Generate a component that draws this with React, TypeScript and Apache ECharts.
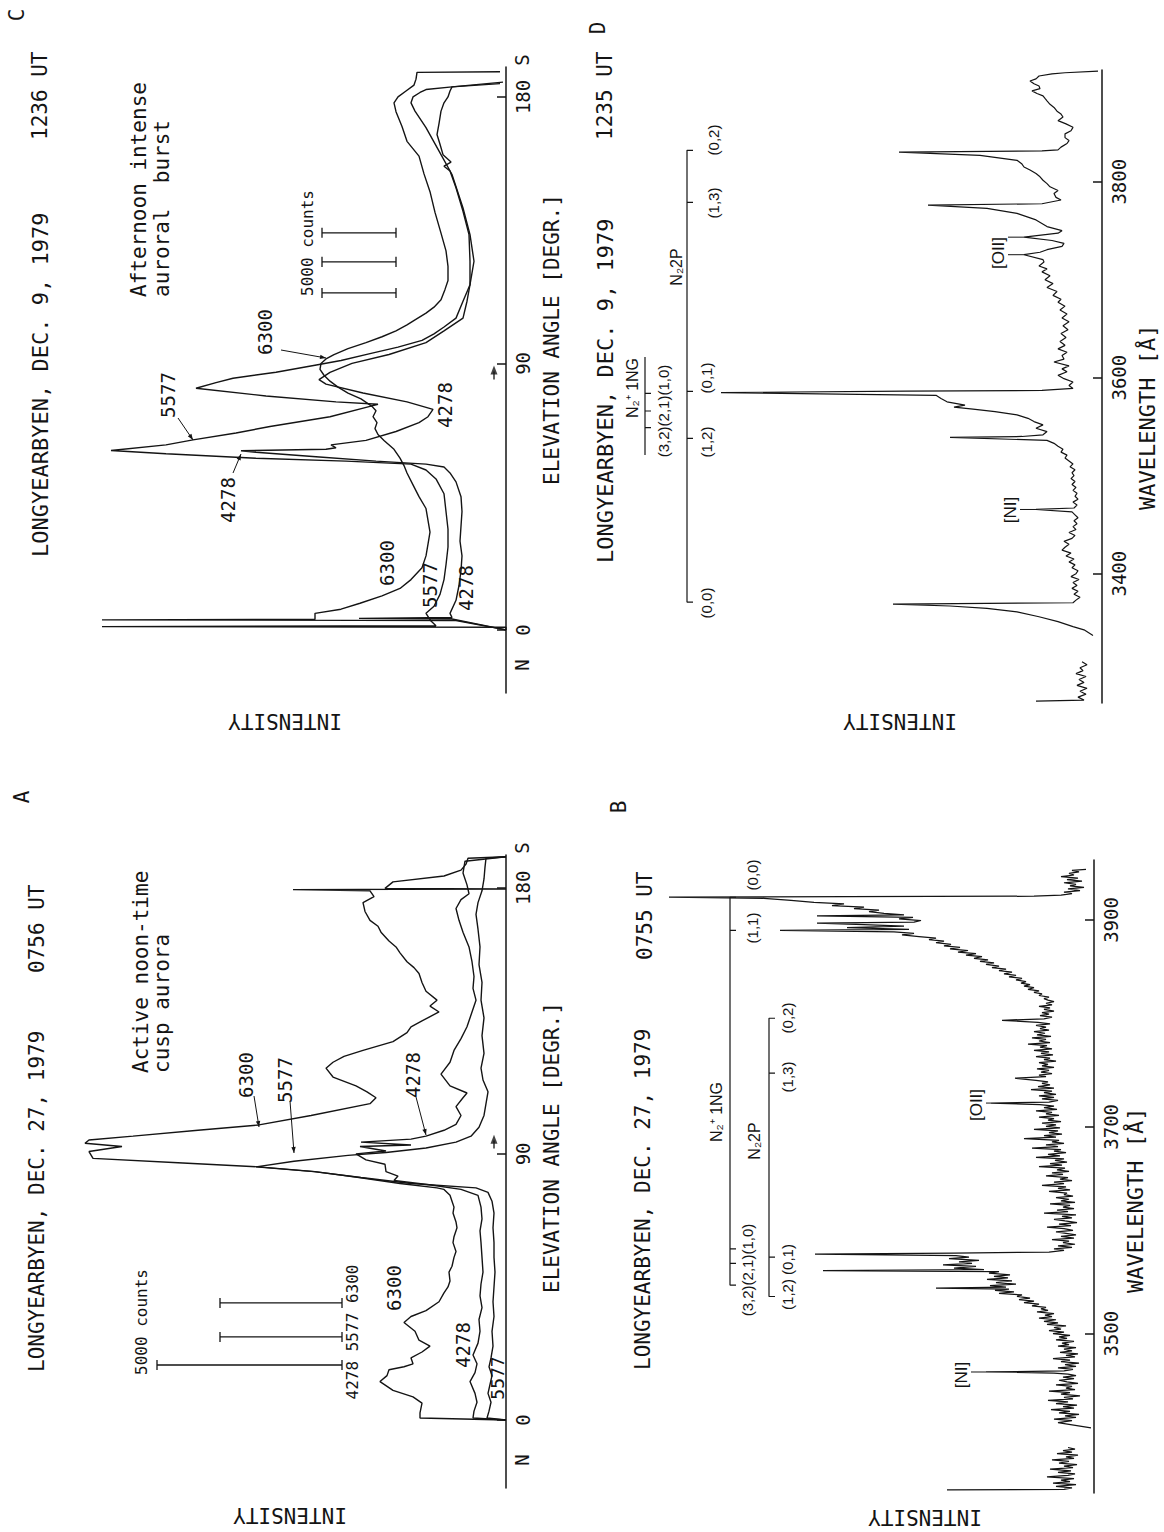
import React, { useEffect, useRef } from "react";
import * as echarts from "echarts";

// ---------- DATA (elevation scans: [elevation deg, intensity]) ----------
const A_6300 = [[0,0],[0.7,86],[2.4,86],[5.7,84],[7.8,93],[10,113],[13,126],[15,119],[17,117],[18,102],[19,93],[21,95],[23,84],[25,76],[27,87],[30,91],[33,102],[35,95],[37,80],[40,67],[43,62],[45,58],[47,56],[50,57],[52,54],[55,52],[57,50],[60,53],[62,52],[65,49],[67,50],[70,53],[72,52],[74,54],[76,56],[78,62],[78.5,69],[80,106],[82,147],[84,191],[85.6,247],[87,328],[88.5,413],[90.8,417],[92.5,384],[93.6,421],[94.7,417],[96,373],[98,308],[99.8,247],[103,195],[107,136],[109,130],[111,139],[113,150],[116,173],[119,180],[121,173],[123,162],[125,143],[128,113],[131,99],[133,95],[135,84],[138,67],[140,76],[142,69],[145,80],[148,84],[151,87],[153,92],[155,99],[158,106],[160,110],[162,117],[165,125],[167,128],[169,136],[172,141],[175,143],[177,132],[179,136],[179.4,213],[179.6,0],[179.8,121],[182,113],[184,62],[186,45],[188,40],[190,38],[190.5,0]];
const A_5577 = [[0,0],[0.7,19],[3,17],[6,15],[9,18],[12,16],[15,14],[18,17],[21,15],[25,13],[30,14],[35,12],[40,13],[45,12],[50,11],[55,12],[60,12],[65,13],[70,12],[74,14],[77,18],[78.5,30],[80,95],[82,145],[84,192],[85.6,250],[87.5,212],[89.5,158],[90.5,120],[92,80],[94,50],[96,35],[99,27],[103,22],[107,20],[111,18],[115,23],[119,25],[124,22],[130,24],[136,22],[142,25],[148,24],[154,27],[160,26],[166,28],[171,30],[175,28],[179,24],[183,22],[187,21],[190,20],[190.5,0]];
const A_4278 = [[0,0],[0.7,33],[3,32],[6,29],[9,31],[13,36],[16,31],[19,29],[22,33],[26,28],[30,26],[34,27],[38,24],[42,26],[46,25],[50,23],[55,24],[60,25],[64,26],[68,24],[72,25],[76,28],[78,45],[79.5,75],[81,112],[82.5,108],[84,120],[86.5,121],[88,140],[90,150],[91,120],[92.5,146],[93,95],[94,145],[95,95],[96,80],[98,62],[100,50],[103,45],[106,50],[109,43],[110.6,39],[113,56],[117,65],[121,56],[125,52],[129,45],[133,39],[138,34],[142,30],[146,33],[150,32],[155,34],[160,37],[165,43],[169,47],[173,50],[176,45],[178,37],[181,39],[185,43],[189,41],[190.5,0]];

const C_6300 = [[0,0],[3.2,50],[3.4,404],[3.6,191],[5.6,191],[7,165],[9,146],[11.5,124],[14,106],[17,95],[21,84],[25,80],[29,78],[33,76],[37,78],[41,80],[45,87],[49,93],[53,99],[55.5,102],[58,106],[61,112],[64,122],[66,128],[68,131],[70,129],[72,133],[74,130],[75.5,134],[78,145],[80,158],[82,168],[84,176],[86,182],[88,186],[90,185],[91.5,180],[93,172],[95,158],[97,140],[99,124],[101,110],[103,99],[104.7,91],[107,80],[109,72],[111.5,65],[115,61],[118,58],[122.8,58],[128,60],[134,65],[141,71],[148,76],[154,82],[160,87],[165,99],[170,104],[175,110],[178,112],[180,108],[182,100],[184,92],[186,90],[188.3,89],[188.5,6]];
const C_5577 = [[0,0],[0.9,0],[1.1,404],[1.4,70],[3,75],[5.6,80],[8,72],[12,66],[17,62],[22,60],[28,58],[34,58],[40,60],[46,62],[51,70],[54,80],[56,95],[57,160],[58,250],[59.5,340],[60.6,395],[62.5,340],[64.2,313],[66.5,270],[68.7,236],[72,176],[75.5,136],[76.2,128],[77,170],[79,240],[81.6,310],[83.5,290],[85,273],[87,230],[89.4,191],[91,165],[93.3,136],[95.5,108],[97.8,84],[100,72],[102.3,62],[105.3,50],[111,43],[116.6,36],[124.5,32],[133.5,36],[142.5,43],[153.8,54],[160.5,65],[169.6,80],[175.2,91],[178,95],[180,93],[181.5,86],[182.5,80],[183.4,54],[184.5,6]];
const C_4278 = [[0,0],[3.7,54],[3.9,147],[4.2,54],[5.6,56],[10,50],[15,47],[20,45],[25,44],[30,46],[35,45],[40,44],[45,45],[50,50],[53,56],[55,62],[56,80],[57,130],[58.5,190],[60,250],[60.5,265],[61,180],[61.5,170],[62.5,175],[64,140],[67,110],[70,87],[72,78],[74.5,73],[77,99],[80,143],[83,180],[84.5,187],[87,176],[90,154],[93,117],[97,80],[101,62],[105.3,43],[111,39],[116.6,36],[124.5,36],[133.5,37],[141.4,43],[149.3,50],[155,56],[156.6,62],[158,55],[160.5,63],[164,66],[167.3,69],[171,67],[175.2,65],[178,62],[180,58],[182,56],[183.4,54],[185,3]];

// ---------- DATA (spectra: [wavelength Å, intensity]) ----------
const B_SPECTRUM = [[3349,147],[3349.6,30],[3351,22],[3352.5,38],[3354,18],[3355.5,41],[3357,24],[3358.5,33],[3360,20],[3361.5,47],[3363,26],[3364.5,19],[3366,36],[3367.5,23],[3369,44],[3370.5,21],[3372,30],[3373.5,17],[3375,35],[3376.5,25],[3378,42],[3379.5,20],[3381,28],[3382.5,16],[3384,37],[3385.5,22],[3387,31],[3388.5,19],[3390,26],[3392,null],[3409,3],[3414,36],[3416,22],[3417.5,40],[3419,18],[3420.5,29],[3422,15],[3423.5,35],[3425,24],[3426.5,43],[3428,20],[3429.5,31],[3431,17],[3432.5,38],[3434,26],[3435.5,46],[3437,21],[3438.5,30],[3440,14],[3441.5,33],[3443,24],[3444.5,45],[3446,19],[3447.5,28],[3449,22],[3450.5,38],[3452,16],[3453.5,27],[3455,35],[3456.5,20],[3458,31],[3459.5,18],[3461,26],[3462,40],[3463,108],[3464,30],[3465.5,21],[3467,36],[3468.5,18],[3470,29],[3471.5,15],[3473,33],[3474.5,24],[3476,41],[3477.5,19],[3479,28],[3480.5,16],[3482,34],[3483.5,22],[3485,30],[3486.5,18],[3488,36],[3489.5,25],[3491,32],[3492.5,20],[3494,38],[3495.5,27],[3497,35],[3498.5,24],[3500,41],[3501.5,30],[3503,45],[3504.5,33],[3506,40],[3507.5,28],[3509,47],[3510.5,36],[3512,50],[3513.5,38],[3515,55],[3516.5,42],[3518,49],[3519.5,40],[3521,57],[3522.5,46],[3524,53],[3525.5,48],[3527,62],[3528.5,55],[3530,70],[3531.5,60],[3533,75],[3534.5,64],[3536,77],[3537.5,72],[3539,95],[3540.5,80],[3542,99],[3543,85],[3544,158],[3545,88],[3546.5,104],[3548,78],[3549.5,98],[3551,82],[3552.5,107],[3554,86],[3555.5,100],[3557,84],[3558.5,105],[3560,95],[3561,271],[3562,110],[3563.5,140],[3565,118],[3566.5,151],[3568,122],[3569.5,135],[3571,115],[3572.5,145],[3574,125],[3575.5,138],[3577,279],[3578,140],[3579,45],[3580.5,30],[3582,40],[3583.5,22],[3585,36],[3586.5,19],[3588,31],[3589.5,25],[3591,42],[3592.5,20],[3594,33],[3595.5,18],[3597,28],[3598.5,38],[3600,21],[3601.5,30],[3603,47],[3604.5,23],[3606,35],[3607.5,17],[3609,29],[3610.5,40],[3612,22],[3613.5,32],[3615,18],[3616.5,50],[3618,26],[3619.5,37],[3621,20],[3622.5,31],[3624,24],[3625.5,44],[3627,19],[3628.5,33],[3630,25],[3631.5,38],[3633,21],[3634.5,30],[3636,27],[3637.5,45],[3639,24],[3640.5,36],[3642,28],[3643.5,52],[3645,30],[3646.5,40],[3648,22],[3649.5,34],[3651,26],[3652.5,48],[3654,31],[3655.5,42],[3657,25],[3658.5,37],[3660,29],[3661.5,55],[3663,32],[3664.5,44],[3666,27],[3667.5,39],[3669,30],[3670.5,58],[3672,34],[3673.5,46],[3675,28],[3676.5,40],[3678,33],[3679.5,62],[3681,36],[3682.5,48],[3684,30],[3685.5,42],[3687,35],[3688.5,70],[3690,38],[3691.5,50],[3693,32],[3694.5,45],[3696,36],[3697.5,60],[3699,34],[3700.5,48],[3702,38],[3703.5,52],[3705,33],[3706.5,46],[3708,40],[3709.5,55],[3711,35],[3712.5,48],[3714,42],[3715.5,58],[3717,37],[3718.5,50],[3720,40],[3721.5,54],[3723,103],[3724,45],[3725.5,36],[3727,52],[3728.5,40],[3730,55],[3731.5,38],[3733,50],[3734.5,42],[3736,63],[3737.5,40],[3739,56],[3740.5,44],[3742,52],[3743.5,46],[3745,58],[3747,79],[3748.5,48],[3750,55],[3751.5,42],[3753,53],[3754.5,45],[3756,57],[3757.5,40],[3759,52],[3760.5,46],[3762,55],[3763.5,38],[3765,50],[3766.5,44],[3768,58],[3769.5,41],[3771,53],[3772.5,45],[3774,60],[3775.5,42],[3777,54],[3778.5,47],[3780,66],[3781.5,44],[3783,55],[3784.5,48],[3786,62],[3787.5,43],[3789,57],[3790.5,49],[3792,60],[3793.5,45],[3795,54],[3796.5,48],[3798,58],[3799.5,44],[3801,56],[3803,92],[3804.5,50],[3806,42],[3807.5,54],[3809,45],[3810.5,52],[3812,40],[3813.5,50],[3815,44],[3816.5,55],[3818,42],[3819.5,48],[3821,40],[3822.5,46],[3824,50],[3825.5,45],[3827,55],[3828.5,52],[3830,60],[3831.5,55],[3833,66],[3834.5,60],[3836,70],[3837.5,64],[3839,73],[3840.5,68],[3842,78],[3843.5,72],[3845,85],[3846.5,78],[3848,90],[3849.5,82],[3851,95],[3852.5,88],[3854,102],[3855.5,95],[3857,108],[3858.5,100],[3860,114],[3861.5,106],[3863,120],[3864.5,112],[3866,128],[3867.5,118],[3869,136],[3870.5,126],[3872,144],[3873.5,134],[3875,150],[3876.5,143],[3878,158],[3879.5,150],[3881,165],[3882.5,158],[3884,175],[3885.5,192],[3887,180],[3888.5,200],[3890,314],[3891,185],[3892.5,247],[3894,190],[3895.5,230],[3897,277],[3898,180],[3899.5,173],[3901,195],[3902.5,181],[3904,277],[3905,190],[3906.5,210],[3908,225],[3909.5,215],[3911,240],[3912.5,230],[3914,262],[3915.5,250],[3917,280],[3919,303],[3921,330],[3922,425],[3923,60],[3924,33],[3925.5,22],[3927,30],[3928.5,14],[3930,26],[3931.5,10],[3933,24],[3934.5,18],[3936,30],[3937.5,12],[3939,27],[3940.5,16],[3942,33],[3943.5,20],[3945,25],[3946.5,15],[3948,22],[3949,8]];

const D_SPECTRUM = [[3270,66],[3271,18],[3274,24],[3277,16],[3280,22],[3283,15],[3286,25],[3289,18],[3292,23],[3295,16],[3298,26],[3301,19],[3304,22],[3307,15],[3310,20],[3320,null],[3337,9],[3342.7,18],[3346,29],[3351,44],[3356,63],[3361,85],[3364.6,115],[3367,152],[3369,209],[3370.3,29],[3373,26],[3376,22],[3379,28],[3382,24],[3385,30],[3388,25],[3391,29],[3394,23],[3397,31],[3400,26],[3403,24],[3406,30],[3409,27],[3412,33],[3415,28],[3418,36],[3421,31],[3424,40],[3427,37],[3430,33],[3433,38],[3436,30],[3439,27],[3442,33],[3445,26],[3448,29],[3451,25],[3454,28],[3457,24],[3460,27],[3463,30],[3465.5,66],[3467,28],[3470,25],[3473,29],[3476,24],[3479,27],[3482,25],[3485,29],[3488,26],[3491,30],[3494,27],[3497,31],[3500,28],[3503,30],[3506,27],[3509,32],[3512,29],[3515,33],[3518,37],[3521,35],[3524,41],[3527,39],[3530,44],[3533,48],[3536,55],[3539,152],[3540,80],[3541.7,59],[3545,55],[3548.4,66],[3551.8,59],[3555.2,68],[3558.5,74],[3562,85],[3565.3,107],[3568,129],[3570,148],[3572,137],[3575.4,155],[3578.7,161],[3582,166],[3584.8,381],[3586.2,196],[3587,60],[3589,29],[3592,33],[3595.6,29],[3599,38],[3602.4,44],[3606,35],[3609,40],[3612,33],[3616,48],[3619,38],[3622.6,40],[3626,35],[3629.4,44],[3633,37],[3637,42],[3641,36],[3645,41],[3649,34],[3653,39],[3657,33],[3661,40],[3665,35],[3669,42],[3673,37],[3677,44],[3680,41],[3684,49],[3688,45],[3692,55],[3696,49],[3700,57],[3704,52],[3708,60],[3711,55],[3714,63],[3718,58],[3720.5,59],[3725.5,78],[3728,62],[3730.6,55],[3734,40],[3737,38],[3740,50],[3743.4,78],[3747.5,44],[3750,40],[3754.2,55],[3761,66],[3767.7,85],[3772.8,115],[3776.2,174],[3777.5,60],[3781.3,41],[3784,46],[3788,48],[3791,44],[3794.8,52],[3798,55],[3801.5,59],[3805,62],[3808.3,66],[3812,72],[3815,78],[3818,80],[3821.8,85],[3826.8,122],[3830.2,203],[3831.5,60],[3832.5,44],[3835.3,41],[3839,35],[3842,33],[3845,37],[3848.8,37],[3852,31],[3855.5,29],[3859,36],[3862.3,44],[3866,39],[3869,41],[3872,45],[3875.8,48],[3879,52],[3882.5,55],[3885,57],[3887.6,59],[3890,65],[3892.7,70],[3895,62],[3897.7,63],[3900,68],[3902.8,72],[3905,66],[3907.9,63],[3910,50],[3911.2,37],[3912.9,4]];

// axis ticks
const ELEV_TICKS = [0, 90, 180];
const B_TICKS = [3500, 3700, 3900];
const D_TICKS = [3400, 3600, 3800];

// band identifications (wavelengths where the marker ticks sit)
const B_1NG_BANDS = [3922, 3890, 3582, 3568, 3547];
const B_2P_BANDS = [3805, 3752, 3574, 3536];
const D_2P_BANDS = [3832, 3779, 3586, 3538, 3371];
const D_1NG_BANDS = [3584, 3566, 3549];
const D_1NG_SPAN = [3621, 3521];

// 5000-count scale bars: [elevation, intensity start, intensity end]
const A_SCALE_BARS = [[39.6, 164, 286], [28.1, 164, 286], [18.6, 164, 349]];
const C_SCALE_BARS = [[134.1, 110, 184], [124.3, 110, 184], [113.8, 110, 184]];

// zenith markers [intensity, elevation]
const A_ZENITH = [12, 95];
const C_ZENITH = [12, 87.8];

const INK = "#141414";
const MONO = '"DejaVu Sans Mono", "Liberation Mono", monospace';
const SANS = '"Liberation Sans", Arial, sans-serif';
const R90 = Math.PI / 2;

function T(text: string, x: number, y: number, size: number, family = MONO, align = "left", rot = R90) {
  return {
    type: "text", x, y, rotation: rot, silent: true, z: 10,
    style: { text, fontSize: size, fontFamily: family, fill: INK, align, verticalAlign: "middle" },
  };
}
function L(x1: number, y1: number, x2: number, y2: number, w = 1.2) {
  return { type: "line", silent: true, z: 10, shape: { x1, y1, x2, y2 }, style: { stroke: INK, lineWidth: w } };
}
function arrow(x1: number, y1: number, x2: number, y2: number) {
  const dx = x2 - x1, dy = y2 - y1;
  const len = Math.sqrt(dx * dx + dy * dy) || 1;
  const ux = dx / len, uy = dy / len;
  const nx = -uy, ny = ux;
  const hl = 6, hw = 2.2;
  return [
    L(x1, y1, x2, y2, 1),
    {
      type: "polygon", silent: true, z: 10,
      shape: { points: [[x2, y2], [x2 - ux * hl + nx * hw, y2 - uy * hl + ny * hw], [x2 - ux * hl - nx * hw, y2 - uy * hl - ny * hw]] },
      style: { fill: INK },
    },
  ];
}

function App() {
  const ref = useRef<HTMLDivElement>(null);
  useEffect(() => {
    if (!ref.current) return;
    const chart = echarts.init(ref.current, null, { renderer: "svg" });

    const gridBase = { containLabel: false, outerBoundsMode: "none", show: false };
    const grids = [
      { ...gridBase, left: 0, top: 67, width: 506, height: 626 }, // C
      { ...gridBase, left: 580, top: 70, width: 522, height: 633 }, // D
      { ...gridBase, left: 0, top: 855, width: 506, height: 633 }, // A
      { ...gridBase, left: 580, top: 860, width: 514, height: 633 }, // B
    ];
    const xMax = [506, 522, 506, 514];
    const xAxes = xMax.map((m, i) => ({ gridIndex: i, type: "value", min: 0, max: m, inverse: true, show: false }));
    const yAxis = (i: number, min: number, max: number, ticks: number[]) => ({
      gridIndex: i, type: "value", position: "right", min, max,
      axisLine: { show: true, onZero: false, lineStyle: { color: INK, width: 1.5 } },
      axisTick: { show: true, inside: true, length: 9, customValues: ticks, lineStyle: { color: INK, width: 1.5 } },
      axisLabel: {
        show: true, customValues: ticks, rotate: 90, margin: 7, fontSize: 19, fontFamily: MONO, color: INK,
        formatter: (v: number) => String(v),
      },
      splitLine: { show: false },
    });
    const yAxes = [
      yAxis(0, -21.3, 190.1, ELEV_TICKS),
      yAxis(1, 3268, 3914, D_TICKS),
      yAxis(2, -23, 191.1, ELEV_TICKS),
      yAxis(3, 3346, 3958, B_TICKS),
    ];

    const line = (data: any[], gi: number, w = 1.3) => ({
      type: "line", xAxisIndex: gi, yAxisIndex: gi, showSymbol: false, symbol: "none",
      silent: true, connectNulls: false, z: 3,
      lineStyle: { color: INK, width: w },
      data,
    });
    const curve = (arr: any[], gi: number, w = 1.3) =>
      line(arr.map(([t, v]) => [v == null ? "-" : v, t]), gi, w);

    const bracket = (bands: number[], lineI: number, tickI: number) => {
      const pts: number[][] = [];
      bands.forEach((b) => { pts.push([lineI, b], [tickI, b], [lineI, b]); });
      return pts;
    };
    const dBar = () => {
      const pts: number[][] = [[457, D_1NG_SPAN[0]]];
      D_1NG_BANDS.forEach((b) => pts.push([457, b], [451, b], [457, b]));
      pts.push([457, D_1NG_SPAN[1]]);
      return pts;
    };
    const scaleBar = ([t, a, b]: number[], cap: number) => [
      [b, t - cap], [b, t + cap], [b, t], [a, t], [a, t + cap], [a, t - cap],
    ];

    const series: any[] = [
      curve(C_6300, 0, 1.4), curve(C_5577, 0, 1.4), curve(C_4278, 0, 1.4),
      curve(A_6300, 2, 1.4), curve(A_5577, 2, 1.4), curve(A_4278, 2, 1.4),
      curve(D_SPECTRUM, 1, 1.2),
      curve(B_SPECTRUM, 3, 1.25),
      line(bracket(B_1NG_BANDS, 364, 358), 3, 1.2),
      line(bracket(B_2P_BANDS, 325, 319), 3, 1.2),
      line(bracket(D_2P_BANDS, 415, 409), 1, 1.2),
      line(dBar(), 1, 1.2),
      ...A_SCALE_BARS.map((s) => line(scaleBar(s, 1.7), 2, 1.3)),
      ...C_SCALE_BARS.map((s) => line(scaleBar(s, 1.7), 0, 1.3)),
      line([[A_ZENITH[0], A_ZENITH[1] - 0.5], [A_ZENITH[0], A_ZENITH[1] - 3.2]], 2, 1.3),
      line([[C_ZENITH[0], C_ZENITH[1] - 0.5], [C_ZENITH[0], C_ZENITH[1] - 3.2]], 0, 1.3),
      { type: "scatter", xAxisIndex: 2, yAxisIndex: 2, symbol: "triangle", symbolSize: [7, 9], silent: true, itemStyle: { color: INK }, data: [A_ZENITH] },
      { type: "scatter", xAxisIndex: 0, yAxisIndex: 0, symbol: "triangle", symbolSize: [7, 9], silent: true, itemStyle: { color: INK }, data: [C_ZENITH] },
    ];

    chart.setOption({
      animation: false,
      backgroundColor: "#ffffff",
      grid: grids,
      xAxis: xAxes,
      yAxis: yAxes,
      series,
    });

    const px = (gi: number, I: number, v: number) => chart.convertToPixel({ gridIndex: gi } as any, [I, v]) as number[];

    const g: any[] = [];
    // panel letters
    g.push(T("C", 17, 15, 21, MONO, "center"), T("D", 598, 28, 21, MONO, "center"));
    g.push(T("A", 22, 797, 21, MONO, "center"), T("B", 619, 807, 21, MONO, "center"));
    // titles
    g.push(T("LONGYEARBYEN, DEC. 9, 1979", 40, 557, 22), T("1236 UT", 40, 140, 21));
    g.push(T("LONGYEARBYEN, DEC. 9, 1979", 605, 563, 22), T("1235 UT", 605, 140, 21));
    g.push(T("LONGYEARBYEN, DEC. 27, 1979", 37, 1372, 21), T("0756 UT", 37, 973, 21));
    g.push(T("LONGYEARBYEN, DEC. 27, 1979", 643, 1370, 21), T("0755 UT", 645, 960, 21));
    // event notes
    g.push(T("Afternoon intense", 139, 297, 21), T("auroral  burst", 162, 297, 21));
    g.push(T("Active noon-time", 141, 1073, 21), T("cusp aurora", 162, 1073, 21));
    // axis names
    g.push(T("ELEVATION ANGLE [DEGR.]", 552, 485, 21), T("ELEVATION ANGLE [DEGR.]", 552, 1293, 21));
    g.push(T("N", 522, 665, 19, MONO, "center"), T("S", 522, 60, 19, MONO, "center"));
    g.push(T("N", 522, 1460, 19, MONO, "center"), T("S", 522, 848, 19, MONO, "center"));
    g.push(T("WAVELENGTH [Å]", 1135, 1293, 22), T("WAVELENGTH [Å]", 1147, 510, 22));
    g.push(
      T("INTENSITY", 285, 721, 21, MONO, "center", Math.PI),
      T("INTENSITY", 900, 721, 21, MONO, "center", Math.PI),
      T("INTENSITY", 290, 1515, 21, MONO, "center", Math.PI),
      T("INTENSITY", 925, 1517, 21, MONO, "center", Math.PI),
    );
    // scale bar labels
    g.push(T("5000 counts", 307, 243, 16, MONO, "center"));
    g.push(T("5000 counts", 141, 1322, 16, MONO, "center"));
    g.push(T("4278 5577 6300", 352, 1332, 16, MONO, "center"));
    // curve labels panel C
    g.push(T("6300", 387, 563, 19, MONO, "center"), T("5577", 430, 585, 19, MONO, "center"), T("4278", 466, 588, 19, MONO, "center"));
    g.push(T("4278", 228, 500, 19, MONO, "center"), ...arrow(233, 473, 241, 454));
    g.push(T("5577", 168, 395, 19, MONO, "center"), ...arrow(178, 418, 193, 440));
    g.push(T("4278", 445, 405, 19, MONO, "center"));
    g.push(T("6300", 265, 332, 19, MONO, "center"), ...arrow(281, 350, 326, 358));
    // curve labels panel A
    g.push(T("6300", 246, 1075, 19, MONO, "center"), ...arrow(254, 1096, 259, 1127));
    g.push(T("5577", 285, 1080, 19, MONO, "center"), ...arrow(290, 1101, 294, 1153));
    g.push(T("4278", 413, 1075, 19, MONO, "center"), ...arrow(416, 1097, 426, 1135));
    g.push(T("6300", 394, 1288, 19, MONO, "center"), T("4278", 463, 1345, 19, MONO, "center"), T("5577", 497, 1378, 18, MONO, "center"));

    // band labels B
    g.push(T("(0,0)", 752, 875, 15, SANS, "center"), T("(1,1)", 752, 928, 15, SANS, "center"));
    g.push(T("(3,2)(2,1)(1,0)", 747, 1270, 15, SANS, "center"));
    g.push(T("(0,2)", 787, 1018, 15, SANS, "center"), T("(1,3)", 787, 1077, 15, SANS, "center"));
    g.push(T("(1,2) (0,1)", 787, 1277, 15, SANS, "center"));
    g.push(T("N₂⁺ 1NG", 716, 1112, 16, SANS, "center"), T("N₂2P", 754, 1141, 16, SANS, "center"));
    g.push(T("[OII]", 976, 1105, 17, SANS, "center"), T("[NI]", 961, 1375, 17, SANS, "center"));
    // band labels D
    g.push(T("(0,2)", 713, 140, 15, SANS, "center"), T("(1,3)", 713, 203, 15, SANS, "center"));
    g.push(T("(0,1)", 706, 378, 15, SANS, "center"), T("(1,2)", 706, 442, 15, SANS, "center"), T("(0,0)", 706, 603, 15, SANS, "center"));
    g.push(T("N₂⁺ 1NG", 632, 388, 16, SANS, "center"), T("(3,2)(2,1)(1,0)", 663, 411, 15, SANS, "center"));
    g.push(T("N₂2P", 676, 267, 16, SANS, "center"));
    g.push(T("[OII]", 998, 253, 17, SANS, "center"), T("[NI]", 1010, 510, 17, SANS, "center"));

    // leaders from line labels to the spectral spikes (positions via the axes)
    const bNI = px(3, 108, 3463);
    g.push(L(971, bNI[1], bNI[0], bNI[1], 1));
    const bOII = px(3, 103, 3723);
    g.push(L(986, bOII[1], bOII[0], bOII[1], 1));
    const dOII1 = px(1, 78, 3725.5), dOII2 = px(1, 78, 3743.4);
    g.push(L(1008, dOII1[1], dOII1[0], dOII1[1], 1), L(1008, dOII2[1], dOII2[0], dOII2[1], 1));
    const dNI = px(1, 66, 3465.5);
    g.push(L(1020, dNI[1], dNI[0], dNI[1], 1));

    chart.setOption({ graphic: { elements: g } });

    return () => chart.dispose();
  }, []);

  return (
    <div
      ref={ref}
      style={{ position: "absolute", left: 0, top: 0, width: 1164, height: 1532, background: "#fff" }}
    />
  );
}

export default App;
